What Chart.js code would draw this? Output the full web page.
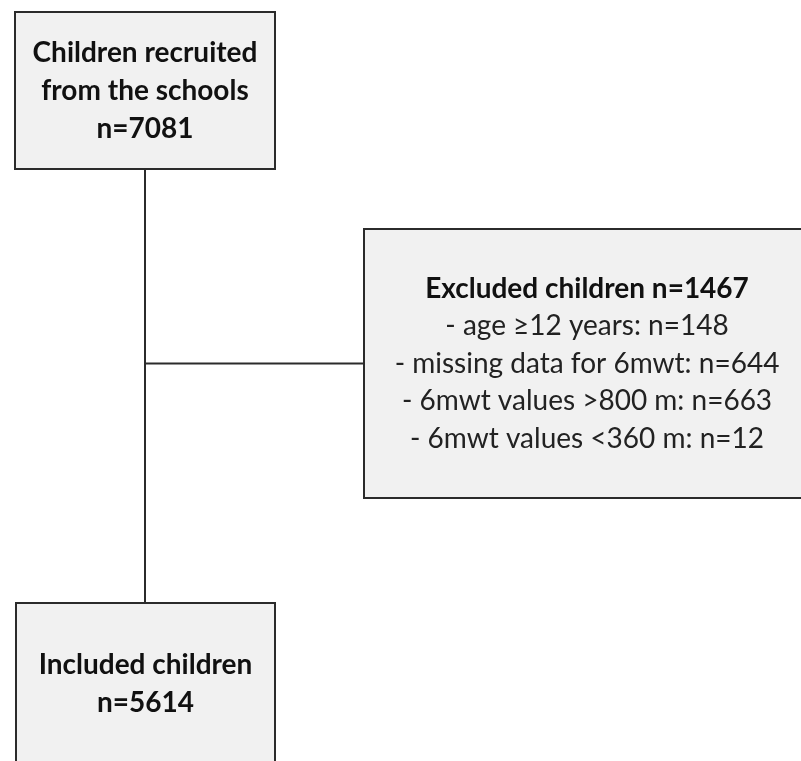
<!DOCTYPE html>
<html>
<head>
<meta charset="utf-8">
<script src="https://cdn.jsdelivr.net/npm/chart.js@4/dist/chart.umd.min.js"></script>
<style>
  html, body { margin: 0; padding: 0; background: #fff; }
  #wrap { width: 801px; height: 761px; }
</style>
</head>
<body>
<div id="wrap"><canvas id="flow" width="801" height="761"></canvas></div>
<script>
// Flowchart content
const nodeIds = ['recruited', 'excluded', 'included'];
const nodeTitles = [
  ['Children recruited', 'from the schools', 'n=7081'],
  ['Excluded children n=1467'],
  ['Included children', 'n=5614']
];
const nodeDetails = [
  [],
  ['- age \u226512 years: n=148', '- missing data for 6mwt: n=644', '- 6mwt values >800 m: n=663', '- 6mwt values <360 m: n=12'],
  []
];
// links: from -> to (excluded branches off the main line)
const linkFrom = ['recruited', 'recruited'];
const linkTo = ['included', 'excluded'];

// layout (in axis units)
const boxes = {
  recruited: { x0: 15, y0: 12, x1: 275, y1: 169 },
  excluded: { x0: 364, y0: 229, x1: 810, y1: 498 },
  included: { x0: 16, y0: 603, x1: 275, y1: 765 }
};

const FONT = 'Lato, "Open Sans", sans-serif';

const flowPlugin = {
  id: 'flowPlugin',
  afterDatasetsDraw(chart) {
    const ctx = chart.ctx;
    const sx = chart.scales.x, sy = chart.scales.y;
    const px = v => sx.getPixelForValue(v);
    const py = v => sy.getPixelForValue(v);

    ctx.save();
    // connectors
    ctx.strokeStyle = '#2b2b2b';
    ctx.lineWidth = 2;
    linkFrom.forEach((from, i) => {
      const a = boxes[from], b = boxes[linkTo[i]];
      const cx = (a.x0 + a.x1) / 2;
      ctx.beginPath();
      if (b.x0 > a.x1) {
        // side branch from the trunk line
        const cy = (b.y0 + b.y1) / 2;
        ctx.moveTo(px(cx), py(cy));
        ctx.lineTo(px(b.x0), py(cy));
      } else {
        ctx.moveTo(px(cx), py(a.y1));
        ctx.lineTo(px(cx), py(b.y0));
      }
      ctx.stroke();
    });

    // boxes and text
    nodeIds.forEach((id, i) => {
      const b = boxes[id];
      const x0 = px(b.x0), x1 = px(b.x1), y0 = py(b.y0), y1 = py(b.y1);
      ctx.fillStyle = '#f1f1f1';
      ctx.fillRect(x0, y0, x1 - x0, y1 - y0);
      ctx.strokeStyle = '#2b2b2b';
      ctx.lineWidth = 2;
      ctx.strokeRect(x0, y0, x1 - x0, y1 - y0);

      const lines = nodeTitles[i].map(t => ({ t, bold: true }))
        .concat(nodeDetails[i].map(t => ({ t, bold: false })));
      const lh = id === 'excluded' ? 37.5 : 38;
      const cx = (x0 + x1) / 2;
      const cy = (y0 + y1) / 2;
      const startY = cy - (lines.length - 1) * lh / 2;
      ctx.textAlign = 'center';
      ctx.textBaseline = 'middle';
      lines.forEach((l, k) => {
        ctx.font = (l.bold ? 'bold ' : '') + '28px ' + FONT;
        ctx.fillStyle = l.bold ? '#111' : '#222';
        ctx.fillText(l.t, cx, startY + k * lh);
      });
    });
    ctx.restore();
  }
};

new Chart(document.getElementById('flow'), {
  type: 'scatter',
  data: {
    datasets: [{
      label: 'nodes',
      data: nodeIds.map(id => ({ x: (boxes[id].x0 + boxes[id].x1) / 2, y: (boxes[id].y0 + boxes[id].y1) / 2 })),
      pointRadius: 0
    }]
  },
  options: {
    responsive: false,
    animation: false,
    layout: { padding: 0 },
    plugins: { legend: { display: false }, tooltip: { enabled: false } },
    scales: {
      x: { type: 'linear', min: 0, max: 801, display: false },
      y: { type: 'linear', min: 0, max: 761, reverse: true, display: false }
    }
  },
  plugins: [flowPlugin]
});
</script>
</body>
</html>
